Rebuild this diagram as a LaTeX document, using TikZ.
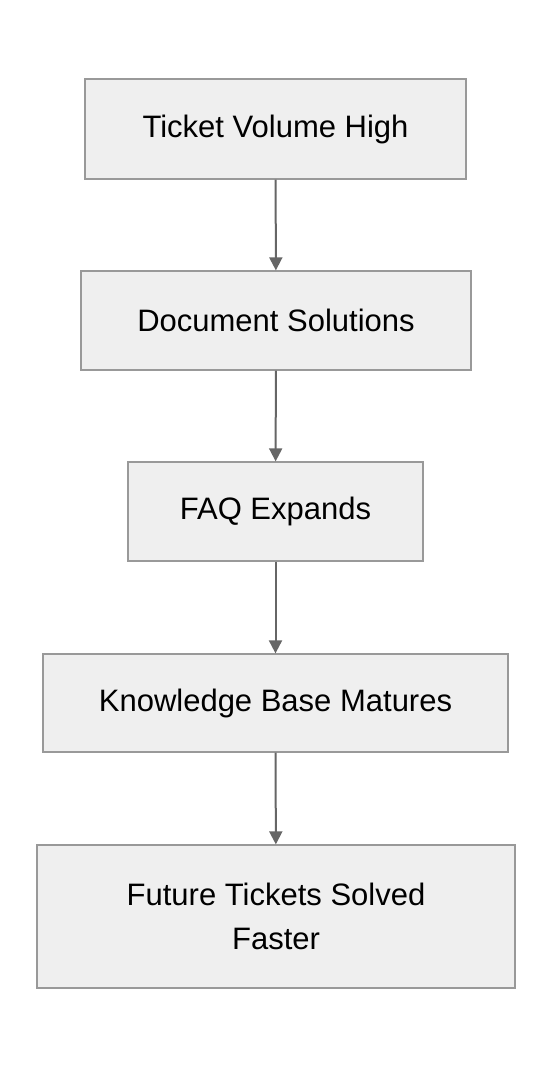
\documentclass[tikz,border=0pt]{standalone}
\usepackage{fontspec}
\setmainfont{Liberation Sans}
\usetikzlibrary{arrows.meta}
\definecolor{boxfill}{HTML}{EFEFEF}
\definecolor{boxline}{HTML}{999999}
\definecolor{arrowc}{HTML}{666666}
\begin{document}
\begin{tikzpicture}[x=1pt,y=-1pt,
  box/.style={draw=boxline,fill=boxfill,line width=1.3pt,inner sep=0pt,align=center,
    font=\fontsize{31}{44}\selectfont},
  conn/.style={draw=arrowc,line width=2pt,-{Triangle[length=13pt,width=13pt]}}]
\useasboundingbox (0,0) rectangle (552,1068);
\node[box,minimum width=381pt,minimum height=100pt] (a) at (275.5,129) {Ticket Volume High};
\node[box,minimum width=390pt,minimum height=99pt] (b) at (276,320.5) {Document Solutions};
\node[box,minimum width=295pt,minimum height=99pt] (c) at (275.5,511.5) {FAQ Expands};
\node[box,minimum width=465pt,minimum height=98pt] (d) at (275.5,703) {Knowledge Base Matures};
\node[box,minimum width=478pt,minimum height=143pt] (e) at (276,916.5) {Future Tickets Solved\\Faster};
\draw[conn] (a) -- (b);
\draw[conn] (b) -- (c);
\draw[conn] (c) -- (d);
\draw[conn] (d) -- (e);
\end{tikzpicture}
\end{document}
